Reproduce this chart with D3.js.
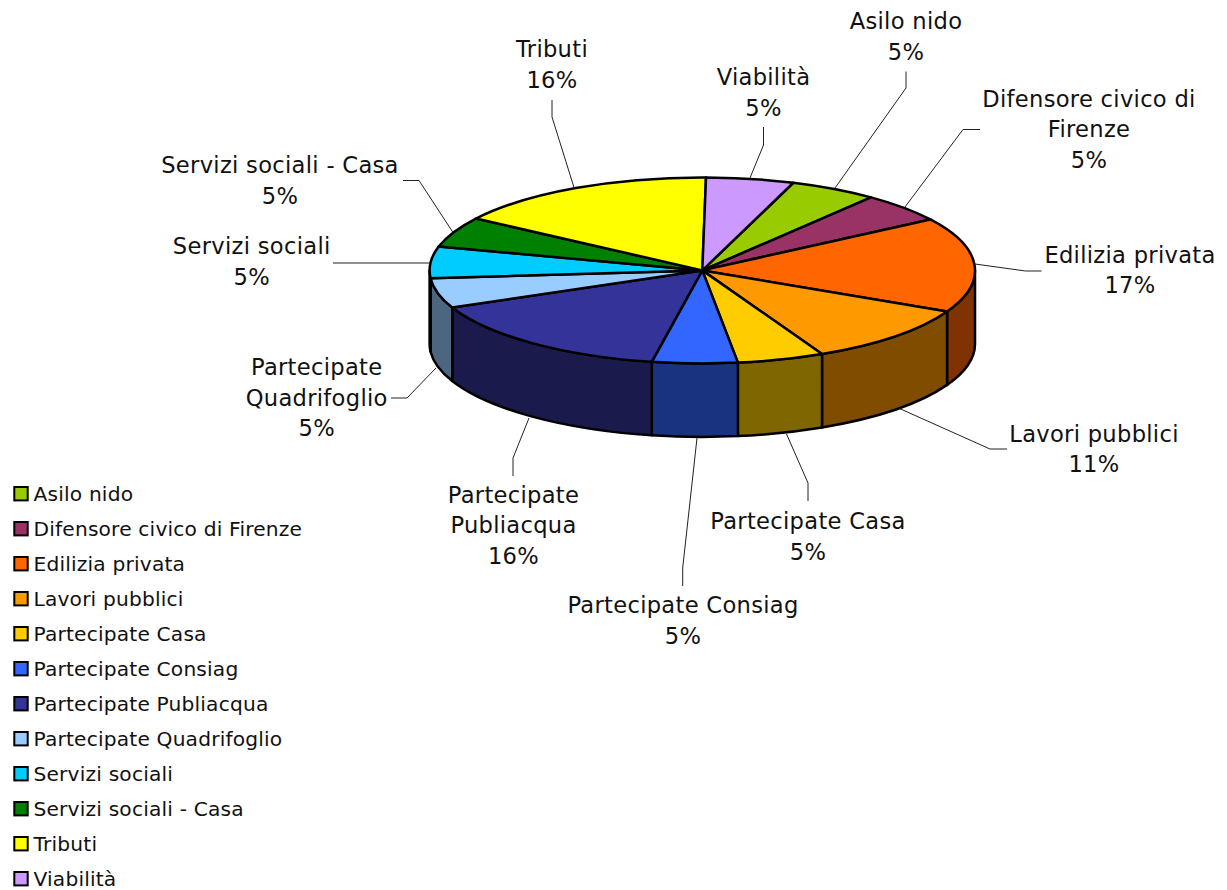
<!DOCTYPE html>
<html>
<head>
<meta charset="utf-8">
<script src="https://cdn.jsdelivr.net/npm/d3@7"></script>
<style>
html,body{margin:0;padding:0;background:#fff;overflow:hidden}
svg{display:block}
text{font-family:"DejaVu Sans",Verdana,sans-serif;fill:#111}
</style>
</head>
<body>
<svg id="chart" width="1227" height="890"></svg>
<script>
// ---- Data ----
const categories = ["Asilo nido","Difensore civico di Firenze","Edilizia privata","Lavori pubblici","Partecipate Casa","Partecipate Consiag","Partecipate Publiacqua","Partecipate Quadrifoglio","Servizi sociali","Servizi sociali - Casa","Tributi","Viabilità"];
const shares = [5.2,5.15,16.5,10.5,5.15,5.05,15.5,5.2,5.45,5.3,15.8,5.2];
const colours = ["#99CC00","#993366","#FF6600","#FF9900","#FFCC00","#3366FF","#333399","#99CCFF","#00CCFF","#008000","#FFFF00","#CC99FF"];
// Wrapped label lines, where the original breaks the category name
const labelLines = [["Asilo nido"],["Difensore civico di","Firenze"],["Edilizia privata"],["Lavori pubblici"],["Partecipate Casa"],["Partecipate Consiag"],["Partecipate","Publiacqua"],["Partecipate","Quadrifoglio"],["Servizi sociali"],["Servizi sociali - Casa"],["Tributi"],["Viabilità"]];

// ---- Layout ----
const cx = 702.3, cy = 270.4, rx = 272.7, ry = 93, depth = 73.5;
const labelFont = 22.6, legendFont = 20.2;
const labelX = [906,1089,1130,1094,808,683,513.5,316.7,251.7,280,552,763.5];
const labelY = [29,106.7,262.7,441.7,529,613.3,502.7,375,254,173,57,85];
const lineStep = 30.7;
const leaders = [
 [[835,188],[906,88],[906,71.5]],
 [[905,207],[963,129.5],[980,129.5]],
 [[975,264],[1025.5,271],[1041.5,271]],
 [[899.5,408.5],[990,449],[1007,449]],
 [[786.5,434],[808,483],[808,501]],
 [[697,438],[682.7,568],[682.7,586]],
 [[529,418],[513,458],[513,476]],
 [[436,368],[407,398],[391,398]],
 [[430,263],[333,263]],
 [[452.7,232],[419,180.5],[403,180.5]],
 [[574,187.5],[552,117],[552,100]],
 [[750,178],[763.5,145],[763.5,127]]
];

const svg = d3.select("#chart");
const deg = Math.PI / 180;
const start = 19.5 * deg;
const slices = d3.pie().sort(null).value(d => d).startAngle(start).endAngle(start + 2 * Math.PI)(shares);
const rim = a => [cx + rx * Math.sin(a), cy - ry * Math.cos(a)];
const half = c => { const k = d3.rgb(c); return d3.rgb(k.r * .5, k.g * .5, k.b * .5).formatHex(); };

// Side walls: the part of each slice that lies on the front half of the ellipse
const front = [[Math.PI / 2, 3 * Math.PI / 2]];
const sides = svg.append("g");
slices.forEach((s, i) => {
  const a0 = Math.max(s.startAngle, front[0][0]);
  const a1 = Math.min(s.endAngle, front[0][1]);
  if (a1 <= a0) return;
  const [x0, y0] = rim(a0), [x1, y1] = rim(a1);
  sides.append("path")
    .attr("d", `M${x0},${y0}A${rx},${ry} 0 0 1 ${x1},${y1}L${x1},${y1 + depth}A${rx},${ry} 0 0 0 ${x0},${y0 + depth}Z`)
    .attr("fill", half(colours[i]))
    .attr("stroke", "#000").attr("stroke-width", 2.5).attr("stroke-linejoin", "round");
});

// Top face: d3.arc flattened into the ellipse
const arc = d3.arc().innerRadius(0).outerRadius(rx);
svg.append("g")
  .attr("transform", `translate(${cx},${cy}) scale(1,${ry / rx})`)
  .selectAll("path").data(slices).join("path")
  .attr("d", arc)
  .attr("fill", (d, i) => colours[i])
  .attr("stroke", "#000").attr("stroke-width", 2.5).attr("stroke-linejoin", "round")
  .attr("vector-effect", "non-scaling-stroke");

// Leader lines
const line = d3.line();
svg.append("g").selectAll("path").data(leaders).join("path")
  .attr("d", line).attr("fill", "none").attr("stroke", "#222").attr("stroke-width", 1);

// Data labels
const labels = svg.append("g").attr("font-size", labelFont).attr("letter-spacing", 0.3).attr("text-anchor", "middle");
slices.forEach((s, i) => {
  const lines = labelLines[i].concat(Math.round(s.data) + "%");
  lines.forEach((t, j) => {
    labels.append("text").attr("x", labelX[i]).attr("y", labelY[i] + j * lineStep).text(t);
  });
});

// Legend
const legendY = d3.scalePoint().domain(categories).range([494, 879]);
const legend = svg.append("g").selectAll("g").data(categories).join("g")
  .attr("transform", d => `translate(0,${legendY(d)})`);
legend.append("rect").attr("x", 14.3).attr("y", -7).attr("width", 13.4).attr("height", 13.4)
  .attr("fill", (d, i) => colours[i]).attr("stroke", "#000").attr("stroke-width", 2);
legend.append("text").attr("x", 33.5).attr("y", 6.5).attr("font-size", legendFont).attr("letter-spacing", 0.18).text(d => d);
</script>
</body>
</html>
